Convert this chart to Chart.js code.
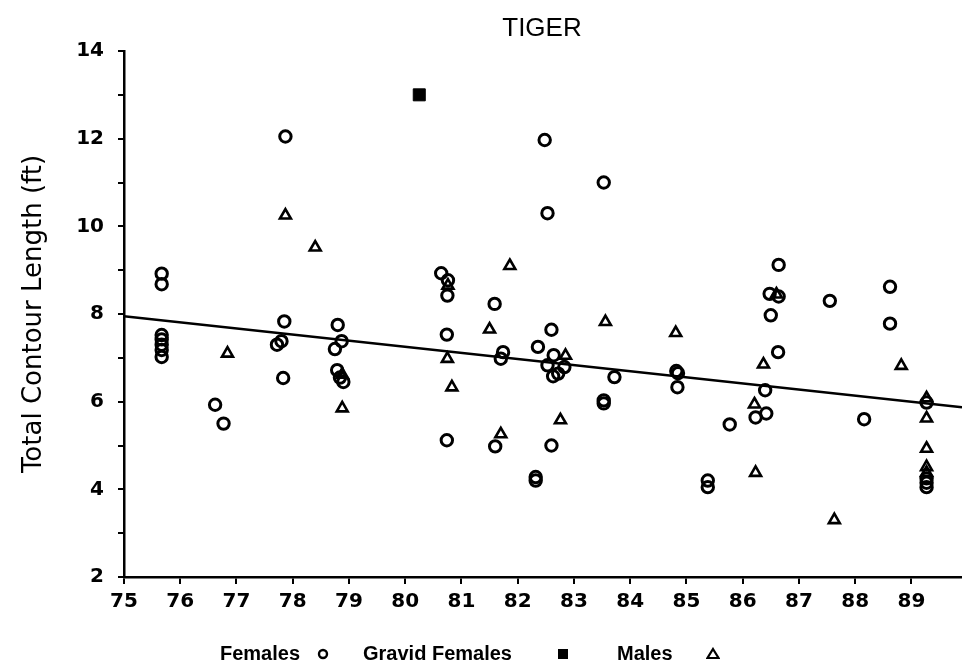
<!DOCTYPE html>
<html>
<head>
<meta charset="utf-8">
<script src="https://cdn.jsdelivr.net/npm/chart.js@4/dist/chart.umd.min.js"></script>
<style>
  html, body { margin: 0; padding: 0; background: #fff; }
  #wrap { position: relative; width: 962px; height: 668px; overflow: hidden; }
  #title { position: absolute; left: 0; width: 1084px; top: 12px; text-align: center;
    font: 26px "Liberation Sans", Arial, sans-serif; color: #000; }
  #legend { position: absolute; top: 642px; left: 0; width: 962px; height: 26px;
    font: bold 20px "Liberation Sans", Arial, sans-serif; color: #000; }
  #legend span { position: absolute; top: 0; white-space: nowrap; }
  #legend svg { position: absolute; }
</style>
</head>
<body>
<div id="wrap">
  <canvas id="c" width="962" height="668"></canvas>
  <div id="title">TIGER</div>
  <div id="legend">
    <span style="left:220px">Females</span>
    <svg style="left:317px;top:6px" width="12" height="12"><circle cx="6" cy="6" r="4" fill="none" stroke="#000" stroke-width="2.4"/></svg>
    <span style="left:363px">Gravid Females</span>
    <svg style="left:557px;top:6px" width="12" height="12"><rect x="1" y="1" width="10" height="10" fill="#000"/></svg>
    <span style="left:617px">Males</span>
    <svg style="left:706px;top:5px" width="14" height="13"><polygon points="7,2 12.5,11 1.5,11" fill="none" stroke="#000" stroke-width="2.2"/></svg>
  </div>
</div>
<script>
// ---- data ----
const xTicks = [75, 76, 77, 78, 79, 80, 81, 82, 83, 84, 85, 86, 87, 88, 89];
const yTicks = [2, 4, 6, 8, 10, 12, 14];

const femalesX = [75.67, 75.67, 75.67, 75.67, 75.67, 75.67, 75.67, 76.62, 76.77, 77.72, 77.8, 77.85, 77.83, 77.87,
  78.8, 78.87, 78.75, 78.79, 78.84, 78.9, 80.64, 80.76, 80.75, 80.74, 80.74, 81.59, 81.74, 81.7, 81.6,
  82.36, 82.48, 82.53, 82.6, 82.64, 82.53, 82.63, 82.72, 82.83, 82.6, 82.32, 82.32,
  83.53, 83.53, 83.53, 83.72, 84.82, 84.85, 84.84, 85.38, 85.38, 85.77, 86.23, 86.42, 86.4, 86.48, 86.5,
  86.64, 86.64, 86.63, 87.55, 88.16, 88.62, 88.62, 89.27, 89.27, 89.27, 89.27];
const femalesY = [8.92, 8.68, 7.52, 7.42, 7.3, 7.18, 7.02, 5.93, 5.5, 7.3, 7.38, 7.83, 6.54, 12.05,
  7.75, 7.38, 7.2, 6.72, 6.55, 6.45, 8.93, 8.77, 8.42, 7.53, 5.12, 8.23, 7.13, 6.98, 4.98,
  7.25, 11.97, 10.3, 7.64, 7.06, 6.83, 6.58, 6.64, 6.79, 5.0, 4.28, 4.2,
  11.0, 6.03, 5.96, 6.56, 6.7, 6.65, 6.33, 4.2, 4.05, 5.48, 5.64, 5.73, 6.26, 8.46, 7.97,
  9.12, 8.4, 7.13, 8.3, 5.6, 8.62, 7.78, 5.98, 4.25, 4.15, 4.05];

const gravidX = [80.25];
const gravidY = [13.0];

const malesX = [76.84, 77.87, 78.4, 78.88, 78.88, 80.76, 80.75, 80.83, 81.5, 81.7, 81.86, 82.85, 82.76,
  83.56, 84.81, 86.21, 86.37, 86.23, 86.6, 87.63, 88.82, 89.27, 89.27, 89.27, 89.27, 89.27];
const malesY = [7.1, 10.25, 9.52, 6.62, 5.85, 8.65, 6.98, 6.33, 7.65, 5.26, 9.1, 7.05, 5.58,
  7.82, 7.57, 5.94, 6.85, 4.38, 8.45, 3.3, 6.82, 6.08, 5.62, 4.93, 4.51, 4.38];

const fitX = [75, 89.9];
const fitY = [7.95, 5.87];

const pts = (xs, ys) => xs.map((x, i) => ({ x: x, y: ys[i] }));
const tickFont = { family: '"DejaVu Sans", sans-serif', size: 20, weight: 'bold' };

new Chart(document.getElementById('c'), {
  type: 'scatter',
  data: {
    datasets: [
      { label: 'Regression', type: 'line', data: pts(fitX, fitY), borderColor: '#000', borderWidth: 2.5,
        pointRadius: 0, fill: false, showLine: true, order: 4 },
      { label: 'Females', data: pts(femalesX, femalesY), pointStyle: 'circle', pointRadius: 5.7,
        borderColor: '#000', backgroundColor: 'rgba(0,0,0,0)', borderWidth: 3 },
      { label: 'Gravid Females', data: pts(gravidX, gravidY), pointStyle: 'rect', pointRadius: 8.5,
        borderColor: '#000', backgroundColor: '#000', borderWidth: 1 },
      { label: 'Males', data: pts(malesX, malesY), pointStyle: 'triangle', pointRadius: 6.3,
        borderColor: '#000', backgroundColor: 'rgba(0,0,0,0)', borderWidth: 2.6 }
    ]
  },
  options: {
    responsive: false,
    animation: false,
    events: [],
    layout: { autoPadding: false, padding: { top: 51, bottom: 51, left: 0, right: 0 } },
    plugins: { legend: { display: false }, title: { display: false }, tooltip: { enabled: false } },
    scales: {
      x: {
        type: 'linear', min: 75, max: 89.9,
        afterBuildTicks: s => { s.ticks = xTicks.map(v => ({ value: v })); },
        afterFit: s => { s.height = 40; },
        border: { display: true, color: '#000', width: 2.5 },
        grid: { display: true, drawOnChartArea: false, drawTicks: true, tickLength: 7, color: '#000', lineWidth: 2 },
        ticks: { color: '#000', padding: 6, maxRotation: 0, autoSkip: false, font: tickFont }
      },
      y: {
        type: 'linear', min: 2, max: 14,
        afterBuildTicks: s => {
          const t = [];
          for (let v = 2; v <= 14; v++) t.push({ value: v });
          s.ticks = t;
        },
        afterFit: s => { s.width = 124; },
        border: { display: true, color: '#000', width: 2.5 },
        grid: { display: true, drawOnChartArea: false, drawTicks: true, tickLength: 6, color: '#000', lineWidth: 2 },
        ticks: { color: '#000', padding: 14, autoSkip: false,
          callback: v => (yTicks.includes(v) ? String(v) : ''), font: tickFont },
        title: { display: true, text: 'Total Contour Length (ft)', color: '#000', padding: { top: 19, bottom: 0 },
          font: { family: '"DejaVu Sans", sans-serif', size: 26, weight: 'normal' } }
      }
    }
  }
});
</script>
</body>
</html>
